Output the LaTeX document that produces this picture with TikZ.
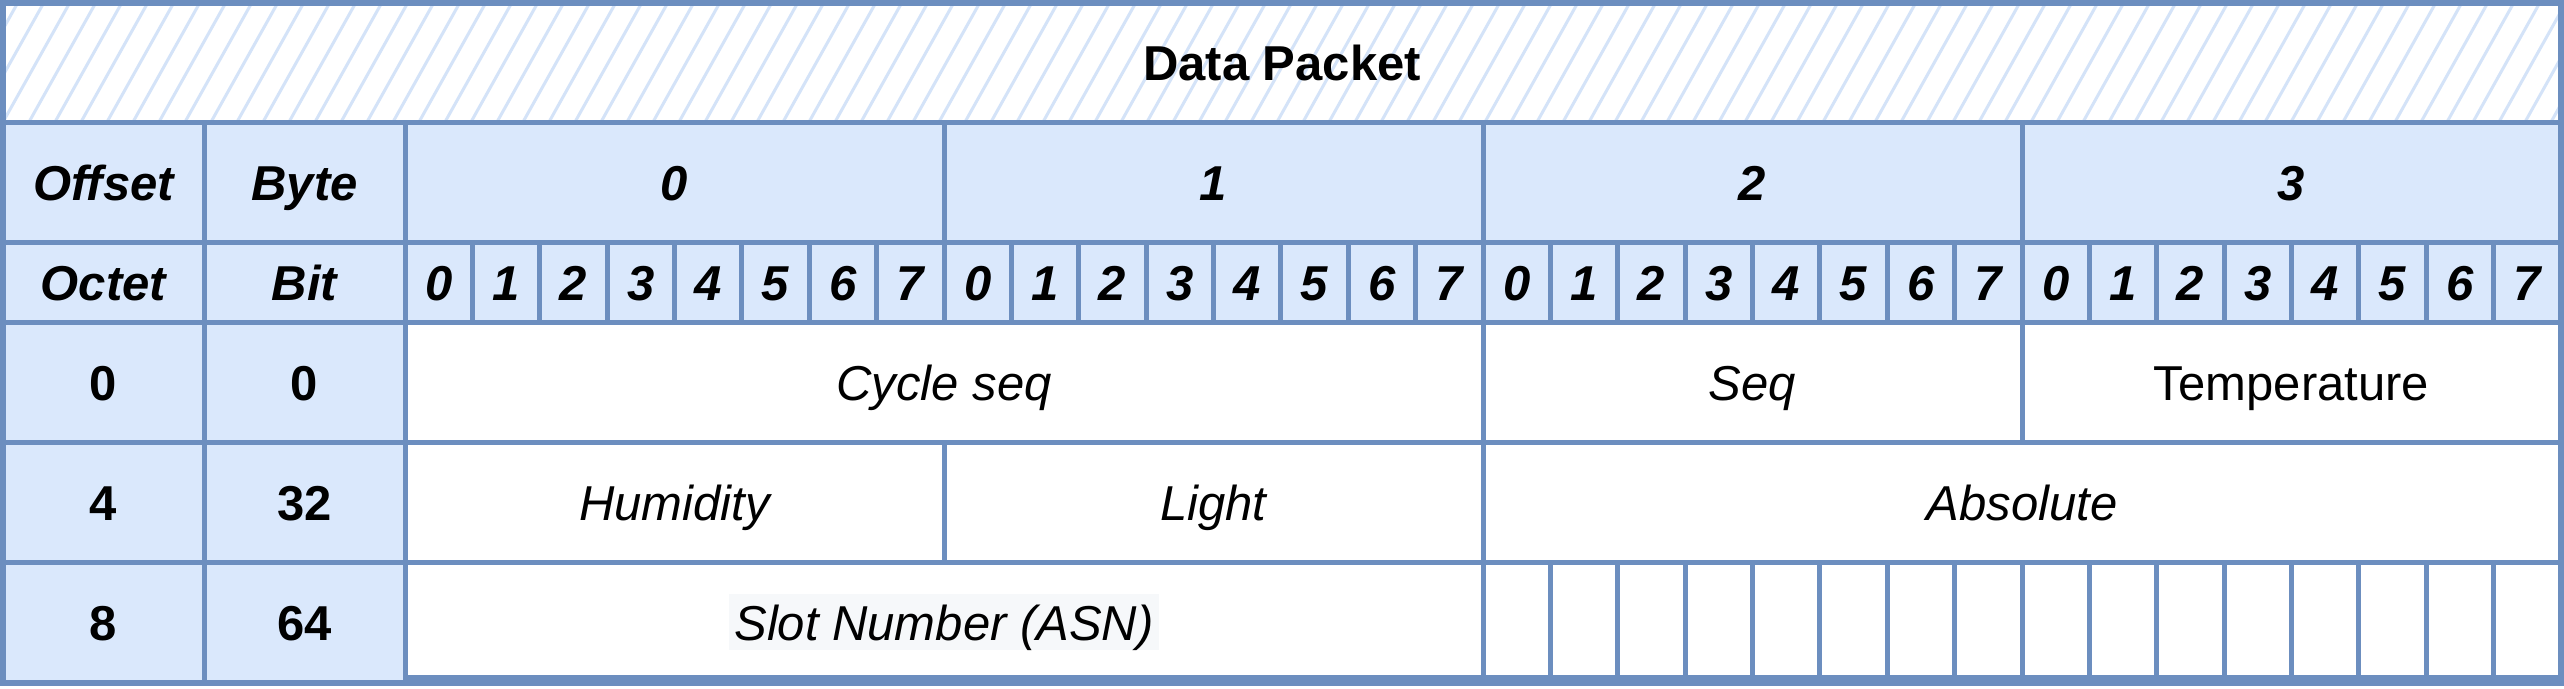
\documentclass[tikz,border=0pt]{standalone}
\usepackage{fontspec}
\setmainfont{Liberation Sans}
\definecolor{lineblue}{HTML}{6C8EBF}
\definecolor{fillblue}{HTML}{DAE8FC}
\definecolor{hatchblue}{HTML}{D4E3F8}
\definecolor{slotgray}{HTML}{F6F8FA}
\newcommand{\pcell}[7]{%
  \pgfmathsetmacro{\pcW}{#4-#2}%
  \pgfmathsetmacro{\pcH}{#5-#3}%
  \node[cellbase,#6,minimum width=\pcW pt,minimum height=\pcH pt,anchor=north west] (#1) at (#2,#3) {#7};}
\begin{document}
\begin{tikzpicture}[x=1pt,y=-1pt,
  cellbase/.style={rectangle,draw=lineblue,line width=5pt,inner sep=0pt,outer sep=0pt,
    text height=36pt,text depth=0pt,font=\fontsize{49}{58}\selectfont},
  hdr/.style={fill=fillblue,font=\fontsize{49}{58}\selectfont\bfseries\itshape},
  hdrup/.style={fill=fillblue,font=\fontsize{49}{58}\selectfont\bfseries},
  datait/.style={fill=white,font=\fontsize{49}{58}\selectfont\itshape},
  dataup/.style={fill=white,font=\fontsize{49}{58}\selectfont},
  titlecell/.style={fill=white,font=\fontsize{49}{58}\selectfont\bfseries,
    path picture={\foreach \k in {-4,...,100}{\draw[hatchblue,line width=3pt]
      ([xshift=\k*26pt]path picture bounding box.south west) -- ++(70pt,125pt);}}},
  framebox/.style={rectangle,draw=lineblue,line width=5.5pt,inner sep=0pt,outer sep=0pt,anchor=north west},
  slotlabel/.style={fill=slotgray,inner xsep=5pt,inner ysep=10pt,text height=36pt,text depth=0pt,
    font=\fontsize{49}{58}\selectfont\itshape}
]
\useasboundingbox (0,0) rectangle (2564,688);
% title
\pcell{title}{3}{3}{2561}{122}{titlecell}{Data Packet}
% header row 1
\pcell{off}{3}{122}{204}{242}{hdr}{Offset}
\pcell{byte}{204}{122}{405}{242}{hdr}{Byte}
\foreach \j in {0,...,3}{%
  \pgfmathsetmacro{\xa}{405+\j*539}\pgfmathsetmacro{\xb}{\xa+539}%
  \pcell{b\j}{\xa}{122}{\xb}{242}{hdr}{\j}}
% header row 2
\pcell{octet}{3}{242}{204}{322}{hdr}{Octet}
\pcell{bit}{204}{242}{405}{322}{hdr}{Bit}
\foreach \i in {0,...,31}{%
  \pgfmathsetmacro{\xa}{405+\i*67.375}\pgfmathsetmacro{\xb}{\xa+67.375}%
  \pgfmathtruncatemacro{\dg}{mod(\i,8)}%
  \pcell{t\i}{\xa}{242}{\xb}{322}{hdr}{\dg}}
% row 0
\pcell{o0}{3}{322}{204}{442}{hdrup}{0}
\pcell{y0}{204}{322}{405}{442}{hdrup}{0}
\pcell{cycle}{405}{322}{1483}{442}{datait}{Cycle seq}
\pcell{seq}{1483}{322}{2022}{442}{datait}{Seq}
\pcell{temp}{2022}{322}{2561}{442}{dataup}{Temperature}
% row 4
\pcell{o4}{3}{442}{204}{562}{hdrup}{4}
\pcell{y32}{204}{442}{405}{562}{hdrup}{32}
\pcell{hum}{405}{442}{944}{562}{datait}{Humidity}
\pcell{light}{944}{442}{1483}{562}{datait}{Light}
\pcell{abs}{1483}{442}{2561}{562}{datait}{Absolute}
% row 8
\pcell{o8}{3}{562}{204}{683}{hdrup}{8}
\pcell{y64}{204}{562}{405}{683}{hdrup}{64}
\pcell{slot}{405}{562}{1483}{677}{datait}{}
\foreach \i in {16,...,31}{%
  \pgfmathsetmacro{\xa}{405+\i*67.375}\pgfmathsetmacro{\xb}{\xa+67.375}%
  \pcell{e\i}{\xa}{562}{\xb}{677}{dataup}{}}
\node[slotlabel] (slotlbl) at ([yshift=-2.5pt]slot.center) {Slot Number (ASN)};
% outer frame
\node[framebox,minimum width=2558pt,minimum height=680pt] (frame) at (3,3) {};
\end{tikzpicture}
\end{document}
